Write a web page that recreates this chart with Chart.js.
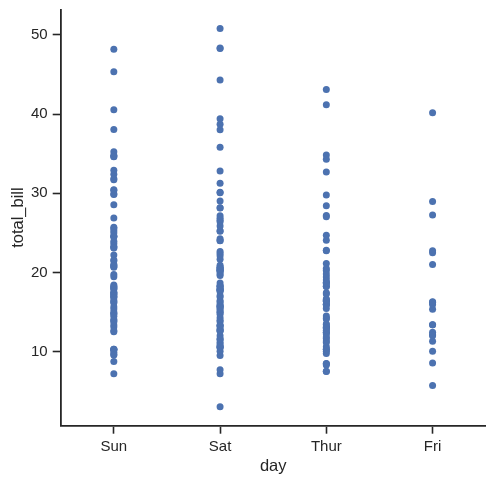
<!DOCTYPE html>
<html>
<head>
<meta charset="utf-8">
<script src="https://cdn.jsdelivr.net/npm/chart.js@4/dist/chart.umd.min.js"></script>
<style>
  body { margin: 0; background: #fff; }
  #wrap { width: 504px; height: 484px; }
</style>
</head>
<body>
<div id="wrap"><canvas id="strip" width="504" height="484"></canvas></div>
<script>
const days = ['Sun', 'Sat', 'Thur', 'Fri'];
const yTicks = [10, 20, 30, 40, 50];

const sunBills = [16.99, 10.34, 21.01, 23.68, 24.59, 25.29, 8.77, 26.88, 15.04, 14.78, 10.27, 35.26, 15.42, 18.43, 14.83, 21.58, 10.33, 16.29, 16.97,
  17.46, 13.94, 9.68, 30.40, 18.29, 22.23, 32.40, 28.55, 18.04, 12.54, 10.29, 34.81, 9.94, 25.56, 19.49,
  38.07, 23.95, 25.71, 17.31, 29.93,
  14.07, 13.13, 17.26, 24.55, 19.77, 29.85, 48.17, 25.00, 13.39, 16.49, 21.50, 12.66, 16.21, 13.81, 17.51, 24.52, 20.76, 31.71,
  7.25, 31.85, 16.82, 32.90, 17.89, 14.48, 9.60, 34.63, 34.65, 23.33, 45.35, 23.17, 40.55, 20.69, 20.90, 30.46, 18.15, 23.10, 15.69];

const satBills = [20.65, 17.92, 20.29, 15.77, 39.42, 19.82, 17.81, 13.37, 12.69, 21.70, 19.65, 9.55, 18.35, 15.06, 20.69, 17.78, 24.06, 16.31, 16.93, 18.69, 31.27, 16.04,
  38.01, 26.41, 11.24, 48.27, 20.29, 13.81,
  11.02, 18.29, 17.59, 20.08, 16.45, 3.07, 20.23, 15.01, 12.02, 17.07, 26.86, 25.28, 14.73, 10.51, 17.92,
  44.30, 22.42, 20.92, 15.36, 20.49, 25.21, 18.24, 14.31, 14.00, 7.25,
  10.59, 10.63, 50.81, 15.81,
  26.59, 38.73, 24.27, 12.76, 30.06, 25.89, 48.33, 13.27, 28.17, 12.90, 28.15, 11.59, 7.74, 30.14,
  20.45, 13.28, 22.12, 24.01, 15.69, 11.61, 10.77, 15.53, 10.07, 12.60, 32.83, 35.83, 29.03, 27.18, 22.67, 17.82];

const thurBills = [27.20, 22.76, 17.29, 19.44, 16.66, 10.07, 32.68, 15.98, 34.83, 13.03, 18.28, 24.71, 21.16,
  10.65, 12.43, 24.08, 11.69, 13.42, 14.26, 15.95, 12.48, 29.80, 8.52, 14.52, 11.38, 22.82, 19.08, 20.27, 11.17, 12.26, 18.26,
  8.51, 10.33, 14.15, 16.00, 13.16, 17.47, 34.30, 41.19, 27.05, 16.43, 8.35, 18.64, 11.87, 9.78, 7.51,
  19.81, 28.44, 15.48, 16.58, 7.56, 10.34, 43.11, 13.00, 13.51, 18.71, 12.74, 13.00, 16.40, 20.53, 16.47, 18.78];

const friBills = [28.97, 22.49, 5.75, 16.32, 22.75, 40.17, 27.28, 12.03, 21.01, 12.46, 11.35, 15.38,
  12.16, 13.42, 8.58, 15.98, 13.42, 16.27, 10.09];

const billsByDay = [sunBills, satBills, thurBills, friBills];

// one point per bill, x = day index (no jitter)
const points = [];
billsByDay.forEach((bills, i) => {
  bills.forEach(v => points.push({ x: i, y: v }));
});

// matplotlib style 5% margins
const allBills = billsByDay.flat();
const lo = Math.min(...allBills), hi = Math.max(...allBills);
const pad = (hi - lo) * 0.05;

const ink = '#262626';
const tickFont = { family: 'Liberation Sans, Arial, sans-serif', size: 15 };
const labelFont = { family: 'Liberation Sans, Arial, sans-serif', size: 16.5 };

new Chart(document.getElementById('strip'), {
  type: 'scatter',
  data: {
    datasets: [{
      data: points,
      backgroundColor: '#4C72B0',
      borderWidth: 0,
      pointRadius: 3.5,
      pointHoverRadius: 3.5
    }]
  },
  options: {
    responsive: false,
    animation: false,
    layout: { padding: { top: 9.5, right: 18.3, left: 0, bottom: 0 } },
    plugins: { legend: { display: false }, tooltip: { enabled: false } },
    scales: {
      x: {
        type: 'linear',
        min: -0.5,
        max: 3.5,
        afterBuildTicks: s => { s.ticks = days.map((d, i) => ({ value: i })); },
        afterFit: s => { s.height = 58.3; },
        ticks: {
          color: ink,
          font: tickFont,
          padding: 4,
          maxRotation: 0,
          callback: v => days[v]
        },
        grid: { drawOnChartArea: false, drawTicks: true, tickLength: 8, tickColor: ink, tickWidth: 1.6 },
        border: { color: ink, width: 1.8 },
        title: { display: true, text: 'day', color: ink, font: labelFont, padding: { top: 0, bottom: 8 } }
      },
      y: {
        min: lo - pad,
        max: hi + pad,
        afterBuildTicks: s => { s.ticks = yTicks.map(v => ({ value: v })); },
        afterFit: s => { s.width = 60.7; s.paddingTop = 0; s.paddingBottom = 0; },
        ticks: { color: ink, font: tickFont, padding: 5 },
        grid: { drawOnChartArea: false, drawTicks: true, tickLength: 8, tickColor: ink, tickWidth: 1.6 },
        border: { color: ink, width: 1.8 },
        title: { display: true, text: 'total_bill', color: ink, font: labelFont, padding: { top: 9, bottom: 0 } }
      }
    }
  }
});
</script>
</body>
</html>
